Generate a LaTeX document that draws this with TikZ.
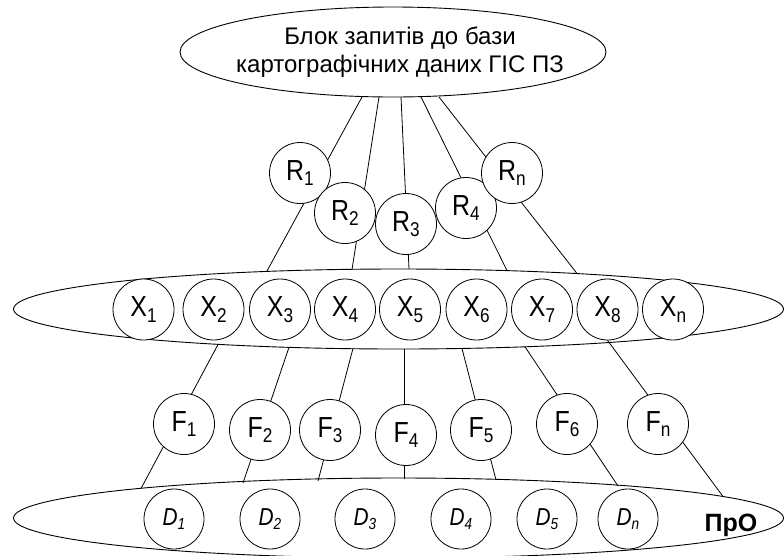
\documentclass[tikz,border=0pt]{standalone}
\usepackage{fontspec}
\setmainfont{Liberation Sans}
\usepackage{graphicx}
\usetikzlibrary{shapes.geometric}

% circle labels: letter with a lowered index, slightly condensed
\newcommand{\vlbl}[2]{\scalebox{0.86}[1]{\fontsize{29}{29}\selectfont #1\raisebox{-5.5pt}{\fontsize{20}{20}\selectfont #2}}}
\newcommand{\dlbl}[1]{\scalebox{0.85}[1]{\fontsize{24.5}{24.5}\selectfont\itshape D\raisebox{-3.5pt}{\fontsize{16}{16}\selectfont #1}}}

\tikzset{
  wire/.style={line width=0.8pt},
  oval/.style={ellipse, draw, line width=0.9pt, inner sep=0pt},
  ball/.style={circle, draw, fill=white, line width=0.8pt, minimum size=61pt, inner sep=0pt},
}

\begin{document}
\begin{tikzpicture}[x=1pt,y=-1pt]
\clip (0,0) rectangle (784,555);
\useasboundingbox (0,0) rectangle (784,555);

% the three levels
\node[oval, minimum width=426pt, minimum height=90pt] (top) at (393,52) {};
\node[font=\fontsize{24}{28}\selectfont, align=center] (toptext) at (400,52) {Блок запитів до бази\\картографічних даних ГІС ПЗ};
\node[oval, minimum width=770pt, minimum height=80pt] (xset) at (398.5,309) {};
\node[oval, minimum width=770pt, minimum height=80pt] (dset) at (398.5,518) {};

% query links: top block -> X set
\coordinate (a1) at (362,97);  \coordinate (b1) at (267,271);
\coordinate (a2) at (379,97);  \coordinate (b2) at (352,269.5);
\coordinate (a3) at (401,97);  \coordinate (b3) at (409,269);
\coordinate (a4) at (421,97);  \coordinate (b4) at (507,270.5);
\coordinate (a5) at (439,97);  \coordinate (b5) at (577,273.5);
\foreach \i in {1,...,5} \draw[wire] (a\i) -- (b\i);

% function links: X set -> subject area
\coordinate (c1) at (218,344.5); \coordinate (d1) at (141,488.5);
\coordinate (c2) at (289,347.3); \coordinate (d2) at (243,483);
\coordinate (c3) at (353,348.4); \coordinate (d3) at (318,481);
\coordinate (c4) at (404,349);   \coordinate (d4) at (404,478.5);
\coordinate (c5) at (462,348.5); \coordinate (d5) at (496,480);
\coordinate (c6) at (525,346.8); \coordinate (d6) at (618,486);
\coordinate (d7) at (723,496.5);
\foreach \i in {1,...,6} \draw[wire] (c\i) -- (d\i);

% R nodes
\node[ball] (R1) at (300,173) {\vlbl{R}{1}};
\node[ball] (R2) at (345,213) {\vlbl{R}{2}};
\node[ball] (R3) at (406,224) {\vlbl{R}{3}};
\node[ball] (R4) at (466,208) {\vlbl{R}{4}};
\node[ball] (Rn) at (512,173) {\vlbl{R}{n}};

% X nodes
\foreach \x/\s in {143.5/1, 213.5/2, 280/3, 345/4, 410/5, 476.5/6, 542/7, 607.5/8, 673/n}
  \node[ball] (X\s) at (\x,309.5) {\vlbl{X}{\s}};
\draw[wire] (X8.south) -- (d7);

% F nodes
\node[ball] (F1) at (184,424) {\vlbl{F}{1}};
\node[ball] (F2) at (260,430) {\vlbl{F}{2}};
\node[ball] (F3) at (330,430) {\vlbl{F}{3}};
\node[ball] (F4) at (406,435) {\vlbl{F}{4}};
\node[ball] (F5) at (481,430) {\vlbl{F}{5}};
\node[ball] (F6) at (567,424) {\vlbl{F}{6}};
\node[ball] (Fn) at (658,424) {\vlbl{F}{n}};

% D nodes
\foreach \x/\s in {174/1, 270/2, 365/3, 461/4, 547/5, 628/n}
  \node[ball, minimum size=60pt] (D\s) at (\x,519) {\dlbl{\s}};

\node[font=\fontsize{25}{25}\selectfont\bfseries] (pro) at (731,525) {ПрО};
\end{tikzpicture}
\end{document}
